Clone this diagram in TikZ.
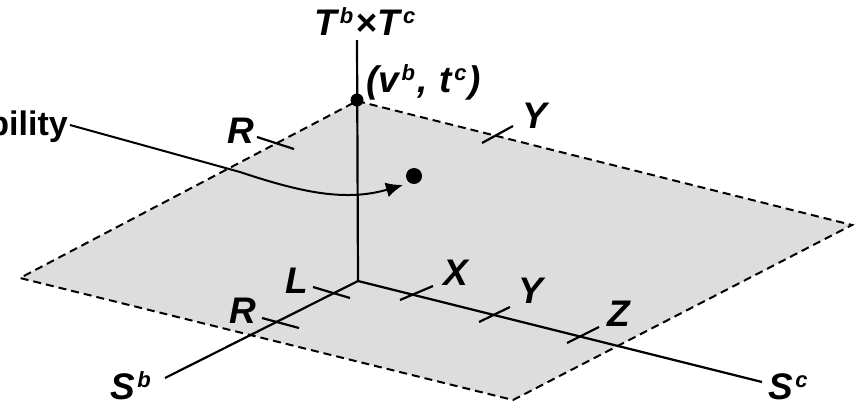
\documentclass[tikz,border=0pt]{standalone}
\usepackage{fontspec}
\setmainfont{Liberation Sans}
\usetikzlibrary{arrows.meta}
\definecolor{planegray}{RGB}{221,221,221}
\newcommand{\sprs}[1]{\kern2.5pt\raisebox{12pt}{\fontsize{22}{22}\selectfont #1}\kern2pt}
\tikzset{
  axis/.style={line width=2.2pt},
  edge/.style={line width=2pt, dash pattern=on 8pt off 5pt},
  tick/.style={line width=2.2pt},
  lbl/.style={font=\fontsize{37}{40}\selectfont\bfseries\itshape, inner sep=0pt, anchor=base},
  dotnode/.style={circle, fill=black, inner sep=0pt},
}
\begin{document}
\begin{tikzpicture}[x=1pt,y=-1pt]
\clip (0,0) rectangle (861,408);
% plane corners
\coordinate (P1) at (357,101);
\coordinate (P2) at (852,225);
\coordinate (P3) at (513,400);
\coordinate (P4) at (20,278);
\fill[planegray] (P1) -- (P2) -- (P3) -- (P4) -- cycle;
\draw[edge] (P1) -- (P2) -- (P3) -- (P4) -- cycle;
% axes
\coordinate (O) at (358,281);
\coordinate (Vt) at (357,40);
\coordinate (Sbe) at (165,378);
\coordinate (Sce) at (762,382);
\draw[axis] (Vt) -- (O);
\draw[axis] (O) -- (Sbe);
\draw[axis] (O) -- (Sce);
% ticks
\coordinate (tL1) at (313,287); \coordinate (tL2) at (350,298);
\coordinate (tR1) at (262,318); \coordinate (tR2) at (299,328);
\coordinate (tX1) at (400,300); \coordinate (tX2) at (433,286);
\coordinate (tY1) at (479,322); \coordinate (tY2) at (510,307);
\coordinate (tZ1) at (567,343); \coordinate (tZ2) at (599,327);
\coordinate (tRu1) at (257,137); \coordinate (tRu2) at (294,149);
\coordinate (tYu1) at (482,143); \coordinate (tYu2) at (513,126);
\foreach \a/\b in {tL1/tL2,tR1/tR2,tX1/tX2,tY1/tY2,tZ1/tZ2,tRu1/tRu2,tYu1/tYu2}
  \draw[tick] (\a) -- (\b);
% labels
\node[lbl] (lL) at (297,293) {L};
\node[lbl] (lR) at (243,323) {R};
\node[lbl] (lX) at (456,285) {X};
\node[lbl] (lY) at (531,303) {Y};
\node[lbl] (lZ) at (619,326) {Z};
\node[lbl] (lRu) at (241,143) {R};
\node[lbl] (lYu) at (535,128) {Y};
\node[lbl, anchor=base west] (lSb) at (110,399) {S\sprs{b}};
\node[lbl, anchor=base west] (lSc) at (768,399) {S\sprs{c}};
\node[lbl] (lT) at (366,35) {T\sprs{b}×\kern1pt T\sprs{c}};
\node[lbl, anchor=base west] (lvt) at (366,92) {(v\sprs{b}, \kern2pt t\sprs{c})};
\node[lbl, anchor=base east, font=\fontsize{34}{38}\selectfont\bfseries] (prob) at (68,135) {Probability};
% dots
\node[dotnode, minimum size=13pt] (d1) at (357,100) {};
\node[dotnode, minimum size=16pt] (d2) at (414,176) {};
% arrow
\coordinate (cs) at (70,125);
\coordinate (tip) at (403,185);
\draw[line width=2pt, -{Latex[length=17pt,width=15pt]}] (cs) -- (240,172) .. controls (300,192) and (345,202) .. (tip);
\end{tikzpicture}
\end{document}
